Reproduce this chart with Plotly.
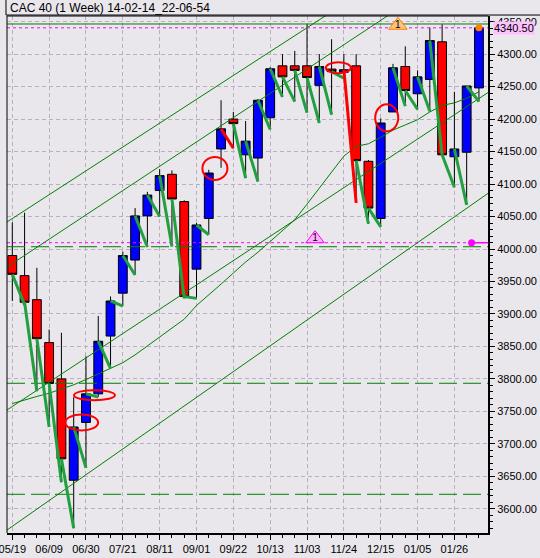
import plotly.graph_objects as go

# ---------------- data ----------------
week_labels = ["05/19", "05/26", "06/02", "06/09", "06/16", "06/23", "06/30", "07/07",
               "07/14", "07/21", "07/28", "08/04", "08/11", "08/18", "08/25", "09/01",
               "09/08", "09/15", "09/22", "09/29", "10/06", "10/13", "10/20", "10/27",
               "11/03", "11/10", "11/17", "11/24", "12/01", "12/08", "12/15", "12/22",
               "12/29", "01/05", "01/12", "01/19", "01/26", "02/02", "02/09"]

opens = [3990, 3959, 3922, 3856, 3800, 3644, 3733, 3777, 3866, 3932,
         3983, 4051, 4090, 4115, 4073, 3969, 4047, 4154, 4200, 4145,
         4140, 4202, 4282, 4282, 4282, 4252, 4277, 4272, 4282, 4135,
         4047, 4211, 4281, 4239, 4261, 4319, 4142, 4149, 4248]
highs = [4041, 4056, 3971, 3876, 3871, 3772, 3835, 3897, 3927, 3996,
         4063, 4088, 4123, 4121, 4075, 4040, 4122, 4229, 4211, 4197,
         4231, 4280, 4300, 4305, 4346, 4300, 4323, 4300, 4300, 4137,
         4201, 4285, 4312, 4275, 4341, 4346, 4242, 4251, 4341]
lows = [3920, 3914, 3781, 3726, 3641, 3570, 3663, 3772, 3816, 3912,
        3960, 4003, 4050, 4004, 3924, 3924, 4022, 4125, 4155, 4109,
        4104, 4184, 4234, 4227, 4210, 4194, 4207, 4263, 4071, 4039,
        4034, 4211, 4220, 4215, 4212, 4145, 4095, 4068, 4227]
closes = [3961, 3918, 3862, 3793, 3677, 3726, 3777, 3858, 3920, 3990,
          4051, 4083, 4113, 4077, 3927, 4037, 4117, 4185, 4193, 4166,
          4229, 4277.5, 4265, 4275, 4264, 4281, 4273, 4276, 4136, 4063,
          4194, 4279, 4244, 4265, 4321, 4145, 4154, 4251, 4340.5]

ma_values = [3762, 3768, 3773, 3778, 3784, 3791, 3799, 3808, 3816, 3825,
             3837, 3851, 3864, 3878, 3892, 3913, 3929, 3946, 3963, 3980,
             3995, 4012, 4029, 4045, 4069, 4094, 4119, 4143, 4158, 4162,
             4172, 4183, 4191, 4199, 4211, 4221, 4225, 4232, 4242]

chan_x = [-0.43, 38.74]
chan_upper = [4041.6, 4521.0]
chan_mid = [3972.3, 4461.0]
chan_inner = [3752.2, 4240.9]
chan_lower = [3567.4, 4085.7]

green_solid_levels = [4346.4]
green_dashed_levels = [4003.5, 3793.3, 3622.4]
magenta_levels = [4340.5, 4009.7]

red_leg_weeks = [18, 28]

ellipse_weeks = [5.65, 6.69, 16.5, 26.55, 30.49]
ellipse_values = [3733, 3775, 4124, 4279, 4202]

signal_weeks = [31.4, 24.65]
signal_values = [4344.4, 4015.9]
signal_text = ["1", "1"]

dot_weeks = [38, 37.4]
dot_values = [4340.5, 4009.7]
last_price_label = "4340.50"

title_text = "CAC 40 (1 Week) 14-02-14_22-06-54"

# ---------------- styling ----------------
BG = "#E9E7EC"
GRID = "#B8B0C0"
DKGREEN = "#008000"
LEGGREEN = "#22A040"
MAGENTA = "#FF00FF"
ell_sizes = [(33, 16), (41, 10), (25, 23), (25, 11), (23, 27)]
signal_colors = [("#FFC080", "#FF8000"), ("#FFB0FF", "#FF00FF")]
dot_colors = ["#FF8000", "#FF00FF"]
FONT = "Liberation Sans"

n = len(week_labels)
xs = list(range(n))
x_lo, x_hi = -0.4316, 38.737

fig = go.Figure()

# channel lines + moving average
for vals in (chan_upper, chan_mid, chan_inner, chan_lower):
    fig.add_trace(go.Scatter(x=chan_x, y=vals, mode="lines",
                             line=dict(color=DKGREEN, width=1), hoverinfo="skip"))
fig.add_trace(go.Scatter(x=xs, y=ma_values, mode="lines",
                         line=dict(color=DKGREEN, width=1), hoverinfo="skip"))

# horizontal levels
for lv in green_solid_levels:
    fig.add_trace(go.Scatter(x=[x_lo, x_hi], y=[lv, lv], mode="lines",
                             line=dict(color=DKGREEN, width=1), hoverinfo="skip"))
for lv in green_dashed_levels:
    fig.add_trace(go.Scatter(x=[x_lo, x_hi], y=[lv, lv], mode="lines",
                             line=dict(color=DKGREEN, width=1, dash="18px,6px"),
                             hoverinfo="skip"))
for lv in magenta_levels:
    fig.add_trace(go.Scatter(x=[x_lo, x_hi], y=[lv, lv], mode="lines",
                             line=dict(color=MAGENTA, width=1, dash="3px,3px"),
                             hoverinfo="skip"))
# solid magenta tail after the pink dot
fig.add_trace(go.Scatter(x=[dot_weeks[1], x_hi], y=[dot_values[1], dot_values[1]],
                         mode="lines", line=dict(color=MAGENTA, width=1.5),
                         hoverinfo="skip"))

# candles
fig.add_trace(go.Candlestick(
    x=xs, open=opens, high=highs, low=lows, close=closes,
    increasing=dict(fillcolor="#0000FF", line=dict(color="#000000", width=1)),
    decreasing=dict(fillcolor="#FF0000", line=dict(color="#000000", width=1)),
    whiskerwidth=0, hoverinfo="skip"))

# legs: close of week i-1 to low of week i
gx, gy, rx, ry = [], [], [], []
for i in range(1, n):
    if lows[i] < closes[i - 1]:
        tx, ty = (rx, ry) if i in red_leg_weeks else (gx, gy)
        tx += [i - 1, i, None]
        ty += [closes[i - 1], lows[i], None]
fig.add_trace(go.Scatter(x=gx, y=gy, mode="lines",
                         line=dict(color=LEGGREEN, width=3), hoverinfo="skip"))
fig.add_trace(go.Scatter(x=rx, y=ry, mode="lines",
                         line=dict(color="#FF0000", width=3), hoverinfo="skip"))

# signal triangles
for k in range(len(signal_weeks)):
    fc, lc = signal_colors[k]
    fig.add_trace(go.Scatter(
        x=[signal_weeks[k]], y=[signal_values[k]], mode="markers+text",
        text=[signal_text[k]], textposition="middle center",
        textfont=dict(family=FONT, size=10, color="#000000"),
        marker=dict(symbol="triangle-up", size=16, color=fc, line=dict(color=lc, width=1)),
        hoverinfo="skip", cliponaxis=False))

# dots
fig.add_trace(go.Scatter(x=dot_weeks, y=dot_values, mode="markers",
                         marker=dict(size=7, color=dot_colors), hoverinfo="skip",
                         cliponaxis=False))

shapes = []
for k in range(len(ellipse_weeks)):
    w, h = ell_sizes[k]
    shapes.append(dict(type="circle", xref="x", yref="y", xsizemode="pixel",
                       ysizemode="pixel", xanchor=ellipse_weeks[k],
                       yanchor=ellipse_values[k], x0=-w / 2, x1=w / 2,
                       y0=-h / 2, y1=h / 2, line=dict(color="#FF0000", width=2),
                       layer="above"))
# borders
shapes.append(dict(type="line", xref="paper", yref="paper", x0=0, x1=0, y0=0, y1=1,
                   line=dict(color="#000000", width=1)))
shapes.append(dict(type="line", xref="paper", yref="paper", x0=0, x1=1, y0=1, y1=1,
                   line=dict(color="#000000", width=1)))
# title box
shapes.append(dict(type="rect", xref="paper", yref="paper", x0=-0.0021, x1=1.2,
                   y0=1.0019, y1=1.05, line=dict(color="#000000", width=1),
                   fillcolor=BG, layer="below"))

annotations = [
    dict(text=title_text, xref="paper", yref="paper", x=0, y=1.0164, xanchor="left",
         yanchor="middle", showarrow=False, xshift=1,
         font=dict(family=FONT, size=12, color="#000000")),
    dict(text=last_price_label, xref="paper", yref="y", x=1, y=magenta_levels[0],
         xanchor="left", yanchor="middle", showarrow=False, xshift=5,
         bgcolor="#FFC0FF", borderpad=0,
         font=dict(family=FONT, size=11, color="#000000")),
]

fig.update_layout(
    width=540, height=558,
    margin=dict(l=7, r=52, t=16, b=25, autoexpand=False),
    paper_bgcolor=BG, plot_bgcolor=BG,
    showlegend=False, hovermode=False,
    font=dict(family=FONT, size=11, color="#000000"),
    boxgap=0.28, boxgroupgap=0,
    shapes=shapes, annotations=annotations,
    xaxis=dict(range=[x_lo, x_hi], tickmode="array", tickvals=xs[::3],
               ticktext=week_labels[::3], ticks="outside", ticklen=5,
               tickcolor="#000000", showline=True, linewidth=2, linecolor="#000000",
               showgrid=True, gridcolor=GRID, griddash="4px,3px", gridwidth=1,
               zeroline=False, rangeslider=dict(visible=False), automargin=False,
               ticklabeloverflow="allow",
               minor=dict(tickmode="linear", tick0=0, dtick=1, ticks="outside",
                          ticklen=3, tickcolor="#000000", showgrid=False)),
    yaxis=dict(range=[3562.8, 4358.7], side="right", tick0=0, dtick=50,
               tickformat=".2f", ticks="outside", ticklen=5, tickcolor="#000000",
               showline=True, linewidth=2, linecolor="#000000",
               showgrid=True, gridcolor=GRID, griddash="4px,3px", gridwidth=1,
               zeroline=False, automargin=False, ticklabeloverflow="allow",
               minor=dict(dtick=10, ticks="outside", ticklen=3, tickcolor="#000000",
                          showgrid=False)),
)

fig.write_html("out.html",
               config={"displayModeBar": False, "staticPlot": True},
               post_script="document.body.style.margin='0px';"
                           "document.body.style.background='" + BG + "';")
